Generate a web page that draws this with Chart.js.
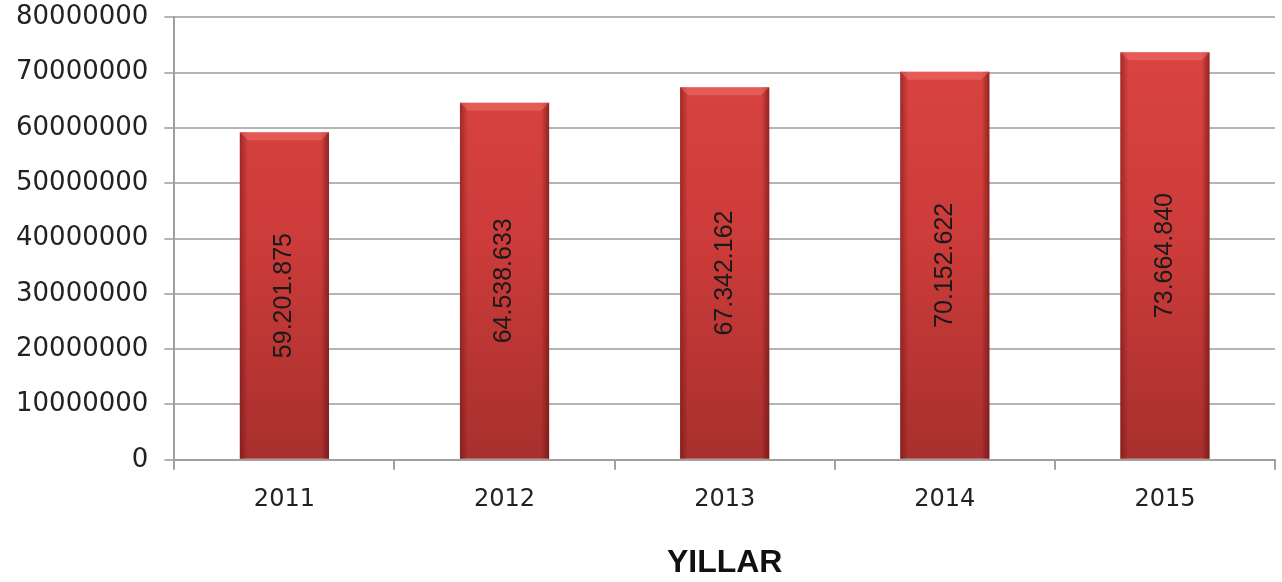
<!DOCTYPE html>
<html>
<head>
<meta charset="utf-8">
<script src="https://cdn.jsdelivr.net/npm/chart.js@4.4.0/dist/chart.umd.min.js"></script>
<style>
  html, body { margin: 0; padding: 0; background: #fff; }
  #kap { width: 1282px; height: 582px; }
</style>
</head>
<body>
<div id="kap"><canvas id="grafik"></canvas></div>
<script>
const yillar = ['2011', '2012', '2013', '2014', '2015'];
const nufus = [59201875, 64538633, 67342162, 70152622, 73664840];

function noktali(n) {
    return String(n).replace(/\B(?=(\d{3})+(?!\d))/g, '.');
}

// cubuklara golge ve kenar efekti
const kabartma = {
    id: 'kabartma',
    afterDatasetsDraw(chart) {
        const ctx = chart.ctx;
        chart.getDatasetMeta(0).data.forEach((bar) => {
            const sol = bar.x - bar.width / 2, sag = bar.x + bar.width / 2;
            const ust = bar.y, alt = bar.base;
            const k = 8;
            ctx.save();
            let g = ctx.createLinearGradient(sol, 0, sol + k, 0);
            g.addColorStop(0, 'rgba(90,10,10,0.45)');
            g.addColorStop(1, 'rgba(90,10,10,0)');
            ctx.fillStyle = g;
            ctx.fillRect(sol, ust, k, alt - ust);
            g = ctx.createLinearGradient(sag - k, 0, sag, 0);
            g.addColorStop(0, 'rgba(90,10,10,0)');
            g.addColorStop(1, 'rgba(90,10,10,0.55)');
            ctx.fillStyle = g;
            ctx.fillRect(sag - k, ust, k, alt - ust);
            // ust kenar
            ctx.fillStyle = 'rgba(255,140,130,0.35)';
            ctx.beginPath();
            ctx.moveTo(sol, ust);
            ctx.lineTo(sag, ust);
            ctx.lineTo(sag - k, ust + k);
            ctx.lineTo(sol + k, ust + k);
            ctx.closePath();
            ctx.fill();
            ctx.restore();
        });
    }
};

// dikey deger etiketleri
const etiketler = {
    id: 'etiketler',
    afterDatasetsDraw(chart) {
        const ctx = chart.ctx;
        chart.getDatasetMeta(0).data.forEach((bar, i) => {
            ctx.save();
            ctx.translate(bar.x, (bar.y + bar.base) / 2);
            ctx.rotate(-Math.PI / 2);
            ctx.font = '25px "Liberation Sans", Arial, sans-serif';
            ctx.fillStyle = '#1a1a1a';
            ctx.textAlign = 'center';
            ctx.textBaseline = 'middle';
            ctx.fillText(noktali(nufus[i]), 0, 0);
            ctx.restore();
        });
    }
};

const ctx = document.getElementById('grafik').getContext('2d');
new Chart(ctx, {
    type: 'bar',
    data: {
        labels: yillar,
        datasets: [{
            data: nufus,
            backgroundColor: (c) => {
                const alan = c.chart.chartArea;
                if (!alan) return '#c83a38';
                const g = c.chart.ctx.createLinearGradient(0, alan.top, 0, alan.bottom);
                g.addColorStop(0, '#dc4542');
                g.addColorStop(0.5, '#cc3c3a');
                g.addColorStop(1, '#a8302e');
                return g;
            },
            barPercentage: 0.405,
            categoryPercentage: 1
        }]
    },
    options: {
        responsive: true,
        maintainAspectRatio: false,
        animation: false,
        layout: { padding: { top: 0, right: 7, left: 0, bottom: 0 } },
        plugins: {
            legend: { display: false },
            tooltip: { enabled: false }
        },
        scales: {
            x: {
                grid: { drawOnChartArea: false, drawTicks: true, tickLength: 10, color: '#a0a0a0', lineWidth: 2 },
                border: { color: '#a0a0a0', width: 2 },
                ticks: { color: '#222', font: { family: '"DejaVu Sans", Verdana, sans-serif', size: 24 }, padding: 16 },
                title: {
                    display: true,
                    text: 'YILLAR',
                    color: '#111',
                    font: { family: '"Liberation Sans", Arial, sans-serif', size: 32, weight: 'bold' },
                    padding: { top: 13, bottom: 0 }
                }
            },
            y: {
                min: 0,
                max: 80000000,
                ticks: {
                    stepSize: 10000000,
                    color: '#222',
                    font: { family: '"DejaVu Sans", Verdana, sans-serif', size: 26, lineHeight: 0.1 },
                    padding: 16,
                    callback: (v) => String(v)
                },
                grid: { color: '#b4b4b4', lineWidth: 2, tickLength: 10 },
                border: { color: '#a0a0a0', width: 2 }
            }
        }
    },
    plugins: [kabartma, etiketler]
});
</script>
</body>
</html>
